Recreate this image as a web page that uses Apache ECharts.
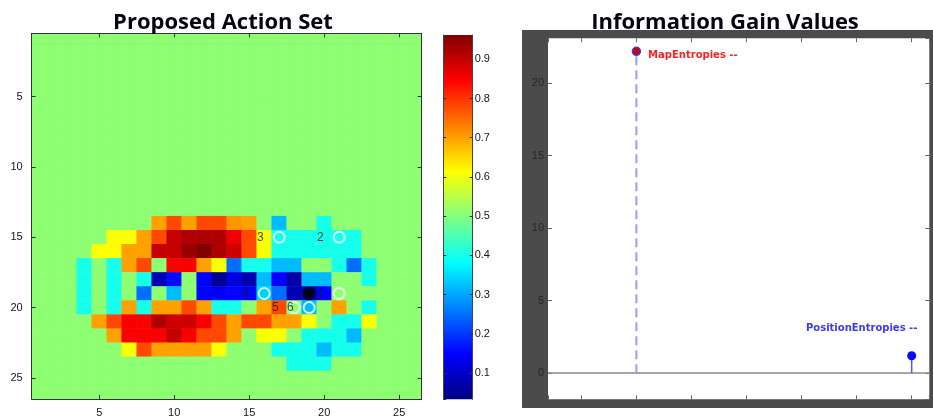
<!DOCTYPE html>
<html>
<head>
<meta charset="utf-8">
<script src="https://cdn.jsdelivr.net/npm/echarts@6/dist/echarts.min.js"></script>
<style>
html,body{margin:0;padding:0;background:#ffffff;}
#chart{width:933px;height:419px;}
</style>
</head>
<body>
<div id="chart"></div>
<script>
// ---------------- data ----------------
const panelTitles = ['Proposed Action Set', 'Information Gain Values'];

// heat map: 26 x 26 cells, rows 1..26 top to bottom, columns 1..26 left to right
const gridSize = 26;
const heatTickLabels = [5, 10, 15, 20, 25];
const backgroundValue = 0.51;         // uniform green cells
const firstActiveRow = 14;            // rows 14..24 hold the non-background cells
const activeRows = [
  /*14*/ [0.51,0.51,0.51,0.51,0.51,0.51,0.51,0.51,0.70,0.78,0.70,0.78,0.78,0.71,0.70,0.51,0.32,0.51,0.51,0.40,0.51,0.51,0.51,0.51,0.51,0.51],
  /*15*/ [0.51,0.51,0.51,0.51,0.51,0.61,0.61,0.70,0.78,0.90,0.92,0.92,0.92,0.86,0.78,0.61,0.40,0.40,0.40,0.40,0.40,0.40,0.51,0.51,0.51,0.51],
  /*16*/ [0.51,0.51,0.51,0.51,0.61,0.61,0.70,0.70,0.90,0.90,0.94,0.96,0.92,0.89,0.78,0.61,0.40,0.40,0.40,0.40,0.40,0.40,0.51,0.51,0.51,0.51],
  /*17*/ [0.51,0.51,0.51,0.40,0.51,0.40,0.70,0.78,0.51,0.85,0.85,0.70,0.61,0.25,0.40,0.40,0.32,0.32,0.51,0.51,0.40,0.25,0.40,0.51,0.51,0.51],
  /*18*/ [0.51,0.51,0.51,0.40,0.51,0.40,0.51,0.40,0.08,0.16,0.51,0.15,0.05,0.12,0.08,0.32,0.15,0.07,0.32,0.32,0.51,0.51,0.40,0.51,0.51,0.51],
  /*19*/ [0.51,0.51,0.51,0.40,0.51,0.40,0.51,0.25,0.51,0.32,0.51,0.15,0.14,0.15,0.15,0.34,0.25,0.08,0.07,0.15,0.51,0.51,0.51,0.51,0.51,0.51],
  /*20*/ [0.51,0.51,0.51,0.40,0.51,0.40,0.70,0.40,0.70,0.70,0.78,0.70,0.40,0.40,0.51,0.70,0.78,0.51,0.32,0.51,0.70,0.51,0.40,0.51,0.51,0.51],
  /*21*/ [0.51,0.51,0.51,0.51,0.70,0.78,0.85,0.85,0.92,0.89,0.89,0.85,0.78,0.70,0.78,0.78,0.70,0.70,0.61,0.51,0.40,0.40,0.61,0.51,0.51,0.51],
  /*22*/ [0.51,0.51,0.51,0.51,0.51,0.70,0.85,0.85,0.85,0.90,0.85,0.78,0.78,0.70,0.51,0.61,0.61,0.51,0.40,0.40,0.40,0.32,0.51,0.51,0.51,0.51],
  /*23*/ [0.51,0.51,0.51,0.51,0.51,0.51,0.61,0.78,0.70,0.70,0.70,0.70,0.61,0.51,0.51,0.51,0.40,0.40,0.40,0.32,0.40,0.40,0.51,0.51,0.51,0.51],
  /*24*/ [0.51,0.51,0.51,0.51,0.51,0.51,0.51,0.51,0.51,0.51,0.51,0.51,0.51,0.51,0.51,0.51,0.51,0.40,0.40,0.40,0.51,0.51,0.51,0.51,0.51,0.51]
];

// proposed actions (column, row) with their numbers
const actionCols = [21, 21, 17, 16, 18, 19];
const actionRows = [19, 15, 15, 19, 20, 20];
const actionLabels = ['1', '2', '3', '4', '5', '6'];
// current position
const robotCol = [19];
const robotRow = [19];

// colour scale
const colorMin = 0.033;
const colorMax = 0.962;
const jetColors = ['#000080','#0000ff','#0080ff','#00ffff','#80ff80','#ffff00','#ff8000','#ff0000','#800000'];

// information gain stems
const gainX = [1, 2];
const gainValues = [22.2, 1.2];
const gainLabels = ['MapEntropies --', 'PositionEntropies --'];

// ---------------- build ----------------
const heatCategories = [];
for (let i = 1; i <= gridSize; i++) heatCategories.push(String(i));

const heatData = [];
for (let r = 1; r <= gridSize; r++) {
  const row = activeRows[r - firstActiveRow];
  for (let c = 1; c <= gridSize; c++) {
    heatData.push([c - 1, r - 1, row ? row[c - 1] : backgroundValue]);
  }
}
const actionData = actionCols.map((c, i) => ({
  name: actionLabels[i],
  value: [String(c), String(actionRows[i])]
}));
const robotData = robotCol.map((c, i) => [String(c), String(robotRow[i])]);

const showHeatTick = (idx) => heatTickLabels.indexOf(idx + 1) >= 0;
const darkText = '#151515';
const axisFont = 'Liberation Sans';

const chart = echarts.init(document.getElementById('chart'), null, {renderer: 'canvas'});

const jetGradient = new echarts.graphic.LinearGradient(0, 1, 0, 0,
  jetColors.map((c, i) => ({offset: i / (jetColors.length - 1), color: c})));

const heatAxisCommon = {
  type: 'category',
  data: heatCategories,
  gridIndex: 0,
  z: 10,
  axisLine: {show: true, lineStyle: {color: '#333', width: 1}},
  splitLine: {show: false},
  axisTick: {show: true, inside: true, length: 4, interval: showHeatTick, alignWithLabel: true, lineStyle: {color: '#333'}},
};
const stemX = {
  type: 'value', gridIndex: 2, min: 0.679, max: 2.064, splitNumber: 7,
  axisLine: {show: false, onZero: false}, splitLine: {show: false}, axisLabel: {show: false},
  axisTick: {show: true, inside: true, length: 4, lineStyle: {color: '#666'}}
};
const stemY = {
  type: 'value', gridIndex: 2, min: -1.8, max: 23.1, splitNumber: 5,
  axisLine: {show: false, onZero: false}, splitLine: {show: false},
  axisTick: {show: true, inside: true, length: 4, lineStyle: {color: '#666'}}
};
const cbY = {
  type: 'value', gridIndex: 1, min: colorMin, max: colorMax, splitNumber: 9, z: 10,
  axisLine: {show: true, onZero: false, lineStyle: {color: '#444'}}, splitLine: {show: false},
  axisTick: {show: true, inside: true, length: 3, lineStyle: {color: '#333'}}
};

const option = {
  animation: false,
  backgroundColor: '#ffffff',
  grid: [
    {left: 31.7, top: 33.3, width: 390, height: 365.7},
    {left: 443.3, top: 35, width: 29.4, height: 364.3},
    {left: 548, top: 38.3, width: 381.3, height: 361, backgroundColor: '#ffffff', show: true, borderWidth: 0}
  ],
  visualMap: {
    type: 'continuous',
    show: false,
    seriesIndex: 0,
    min: colorMin,
    max: colorMax,
    inRange: {color: jetColors}
  },
  xAxis: [
    Object.assign({}, heatAxisCommon, {
      position: 'bottom',
      axisLabel: {show: true, interval: showHeatTick, margin: 8, color: darkText, fontSize: 11, fontFamily: axisFont}
    }),
    Object.assign({}, heatAxisCommon, {position: 'top', axisLabel: {show: false}}),
    {type: 'category', gridIndex: 1, data: ['scale'], show: false},
    Object.assign({}, stemX, {position: 'bottom'}),
    Object.assign({}, stemX, {position: 'top'})
  ],
  yAxis: [
    Object.assign({}, heatAxisCommon, {
      position: 'left', inverse: true,
      axisLabel: {show: true, interval: showHeatTick, margin: 9, color: darkText, fontSize: 11, fontFamily: axisFont}
    }),
    Object.assign({}, heatAxisCommon, {position: 'right', inverse: true, axisLabel: {show: false}}),
    Object.assign({}, cbY, {
      position: 'right',
      axisLabel: {show: true, margin: 2, showMinLabel: false, showMaxLabel: false, color: darkText, fontSize: 11, fontFamily: axisFont}
    }),
    Object.assign({}, cbY, {position: 'left', axisLabel: {show: false}}),
    Object.assign({}, stemY, {
      position: 'left',
      axisLabel: {show: true, margin: 4, showMinLabel: false, showMaxLabel: false, color: '#262626', fontSize: 11, fontFamily: axisFont}
    }),
    Object.assign({}, stemY, {position: 'right', axisLabel: {show: false}})
  ],
  graphic: [
    {type: 'rect', z: -10, silent: true, shape: {x: 522, y: 30, width: 411, height: 378}, style: {fill: '#4b4b4b'}},
    {type: 'text', z: 100, silent: true, style: {text: panelTitles[0], x: 223, y: 23, textAlign: 'center', textVerticalAlign: 'middle', font: 'bold 22px "Open Sans"', fill: '#050510'}},
    {type: 'text', z: 100, silent: true, style: {text: panelTitles[1], x: 725, y: 23, textAlign: 'center', textVerticalAlign: 'middle', font: 'bold 22px "Open Sans"', fill: '#050510'}}
  ],
  series: [
    {
      type: 'heatmap', xAxisIndex: 0, yAxisIndex: 0, data: heatData,
      itemStyle: {borderWidth: 0}, emphasis: {disabled: true}
    },
    {
      type: 'scatter', xAxisIndex: 0, yAxisIndex: 0, data: actionData, z: 5,
      symbol: 'circle', symbolSize: 11,
      itemStyle: {color: 'rgba(0,0,0,0)', borderColor: '#ffffff', borderWidth: 2},
      label: {show: true, position: 'left', distance: 9, formatter: '{b}', color: '#1a1a1a', fontSize: 12, fontFamily: axisFont}
    },
    {
      type: 'scatter', xAxisIndex: 0, yAxisIndex: 0, data: robotData, z: 6,
      symbol: 'circle', symbolSize: 13, itemStyle: {color: '#000000'}
    },
    // colour bar: transparent base up to the scale minimum, gradient bar over the scale range
    {
      type: 'bar', xAxisIndex: 2, yAxisIndex: 2, stack: 'cb', barWidth: '100%',
      data: [colorMin], itemStyle: {color: 'rgba(0,0,0,0)'}, silent: true
    },
    {
      type: 'bar', xAxisIndex: 2, yAxisIndex: 2, stack: 'cb', barWidth: '100%',
      data: [colorMax - colorMin], itemStyle: {color: jetGradient}, silent: true
    },
    {
      type: 'line', xAxisIndex: 3, yAxisIndex: 4, z: 5,
      data: [
        {value: [gainX[0], 0], symbol: 'none'},
        {value: [gainX[0], gainValues[0]], label: {show: true, position: 'right', distance: 7, offset: [0, 4], formatter: gainLabels[0], color: '#ff2222', fontSize: 10, fontWeight: 'bold', fontFamily: 'DejaVu Sans'}}
      ],
      symbol: 'circle', symbolSize: 8,
      lineStyle: {color: '#9b9bff', width: 2, type: [9, 5]},
      itemStyle: {color: '#c4001c', borderColor: '#4040c0', borderWidth: 1.5}
    },
    {
      type: 'line', xAxisIndex: 3, yAxisIndex: 4, z: 5,
      data: [
        {value: [gainX[1], 0], symbol: 'none'},
        {value: [gainX[1], gainValues[1]], label: {show: true, position: 'top', distance: 5, offset: [-50, -13], formatter: gainLabels[1], color: '#3a3aff', fontSize: 10, fontWeight: 'bold', fontFamily: 'DejaVu Sans'}}
      ],
      symbol: 'circle', symbolSize: 9,
      lineStyle: {color: '#5555ff', width: 1.5},
      itemStyle: {color: '#0a0aff'},
      markLine: {
        silent: true, symbol: 'none', label: {show: false},
        lineStyle: {color: '#8a8a8a', width: 1.5, type: 'solid'},
        data: [{yAxis: 0}]
      }
    }
  ]
};
chart.setOption(option);
</script>
</body>
</html>
